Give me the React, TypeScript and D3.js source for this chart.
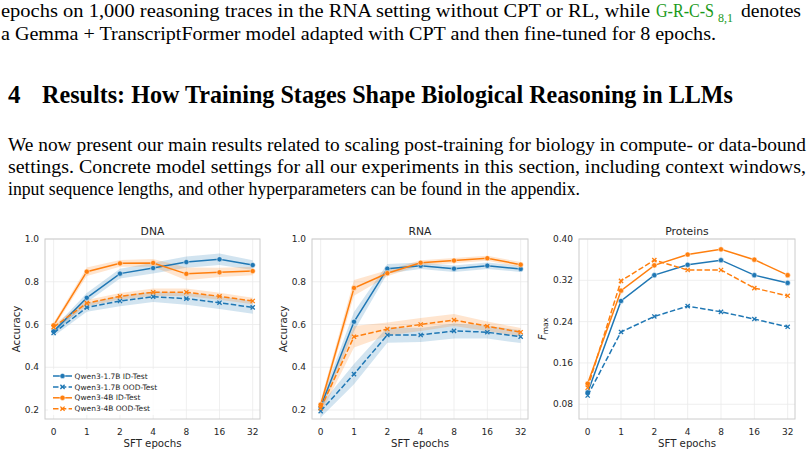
import React, { useEffect, useRef } from "react";
import { select, scaleLinear, line, area, Selection } from "d3";

document.body.style.margin = "0";

const epochLabels = ["0", "1", "2", "4", "8", "16", "32"];
const seriesLabels = [
    "Qwen3-1.7B ID-Test",
    "Qwen3-1.7B OOD-Test",
    "Qwen3-4B ID-Test",
    "Qwen3-4B OOD-Test",
];
const seriesColors = ["#1f77b4", "#1f77b4", "#ff7f0e", "#ff7f0e"];
const seriesDashed = [false, true, false, true];
const seriesMarkers = ["o", "x", "o", "x"];

// DNA accuracy per SFT epoch
const dnaSmallId = [0.568, 0.725, 0.838, 0.864, 0.892, 0.905, 0.878];
const dnaSmallOod = [0.56, 0.68, 0.71, 0.73, 0.721, 0.702, 0.68];
const dnaLargeId = [0.596, 0.847, 0.886, 0.888, 0.837, 0.844, 0.85];
const dnaLargeOod = [0.588, 0.7, 0.732, 0.751, 0.751, 0.732, 0.71];
const dnaSmallIdErr = [0.015, 0.022, 0.023, 0.025, 0.026, 0.027, 0.023];
const dnaSmallOodErr = [0.015, 0.02, 0.025, 0.025, 0.028, 0.03, 0.03];
const dnaLargeIdErr = [0.012, 0.02, 0.016, 0.018, 0.03, 0.022, 0.02];
const dnaLargeOodErr = [0.012, 0.015, 0.015, 0.018, 0.018, 0.016, 0.015];

// RNA accuracy per SFT epoch
const rnaSmallId = [0.215, 0.613, 0.861, 0.875, 0.861, 0.875, 0.86];
const rnaSmallOod = [0.195, 0.368, 0.551, 0.551, 0.57, 0.564, 0.543];
const rnaLargeId = [0.225, 0.771, 0.84, 0.889, 0.899, 0.91, 0.88];
const rnaLargeOod = [0.208, 0.543, 0.579, 0.6, 0.621, 0.592, 0.564];
const rnaSmallIdErr = [0.025, 0.045, 0.022, 0.015, 0.015, 0.015, 0.014];
const rnaSmallOodErr = [0.03, 0.047, 0.036, 0.033, 0.035, 0.03, 0.03];
const rnaLargeIdErr = [0.02, 0.037, 0.014, 0.012, 0.012, 0.012, 0.012];
const rnaLargeOodErr = [0.025, 0.05, 0.03, 0.03, 0.028, 0.022, 0.02];

// Protein F_max per SFT epoch
const protSmallId = [0.103, 0.28, 0.33, 0.35, 0.359, 0.33, 0.315];
const protSmallOod = [0.097, 0.22, 0.25, 0.27, 0.259, 0.245, 0.23];
const protLargeId = [0.12, 0.3, 0.349, 0.37, 0.38, 0.36, 0.33];
const protLargeOod = [0.112, 0.319, 0.359, 0.34, 0.34, 0.305, 0.29];

const accuracyTicks = [0.2, 0.4, 0.6, 0.8, 1.0];
const fmaxTicks = [0.08, 0.16, 0.24, 0.32, 0.4];

interface Panel {
    title: string;
    left: number;
    right: number;
    yLabel: "acc" | "fmax";
    yLabelGap: number;
    yDomain: [number, number];
    yTicks: number[];
    tickDigits: number;
    series: number[][];
    errors: number[][] | null;
    legend: boolean;
}

const panels: Panel[] = [
    {
        title: "DNA",
        left: 45,
        right: 260,
        yLabel: "acc",
        yLabelGap: 29,
        yDomain: [0.158, 1.0],
        yTicks: accuracyTicks,
        tickDigits: 1,
        series: [dnaSmallId, dnaSmallOod, dnaLargeId, dnaLargeOod],
        errors: [dnaSmallIdErr, dnaSmallOodErr, dnaLargeIdErr, dnaLargeOodErr],
        legend: true,
    },
    {
        title: "RNA",
        left: 312,
        right: 528,
        yLabel: "acc",
        yLabelGap: 29,
        yDomain: [0.158, 1.0],
        yTicks: accuracyTicks,
        tickDigits: 1,
        series: [rnaSmallId, rnaSmallOod, rnaLargeId, rnaLargeOod],
        errors: [rnaSmallIdErr, rnaSmallOodErr, rnaLargeIdErr, rnaLargeOodErr],
        legend: false,
    },
    {
        title: "Proteins",
        left: 579,
        right: 795,
        yLabel: "fmax",
        yLabelGap: 37,
        yDomain: [0.0515, 0.4],
        yTicks: fmaxTicks,
        tickDigits: 2,
        series: [protSmallId, protSmallOod, protLargeId, protLargeOod],
        errors: null,
        legend: false,
    },
];

const plotTop = 239;
const plotBottom = 419;
const textColor = "#262626";
const chartFont = "DejaVu Sans, sans-serif";

function drawMarker(
    g: Selection<SVGGElement, unknown, null, undefined>,
    kind: string,
    cx: number,
    cy: number,
    color: string
) {
    if (kind === "o") {
        g.append("circle")
            .attr("cx", cx)
            .attr("cy", cy)
            .attr("r", 2.6)
            .attr("fill", color)
            .attr("stroke", "#fff")
            .attr("stroke-width", 0.5);
    } else {
        const s = 2.1;
        g.append("path")
            .attr("d", `M${cx - s},${cy - s}L${cx + s},${cy + s}M${cx - s},${cy + s}L${cx + s},${cy - s}`)
            .attr("stroke", color)
            .attr("stroke-width", 1.3)
            .attr("fill", "none");
    }
}

function drawPanel(svg: Selection<SVGSVGElement, unknown, null, undefined>, p: Panel) {
    const g = svg.append("g").attr("class", "panel").attr("font-family", chartFont);
    const idx = epochLabels.map((_, i) => i);
    const x = scaleLinear()
        .domain([-0.26, epochLabels.length - 1 + 0.22])
        .range([p.left, p.right]);
    const y = scaleLinear().domain(p.yDomain).range([plotBottom, plotTop]);

    // grid
    g.selectAll(".grid-x")
        .data(idx)
        .join("line")
        .attr("class", "grid-x")
        .attr("x1", (d) => x(d))
        .attr("x2", (d) => x(d))
        .attr("y1", plotTop)
        .attr("y2", plotBottom)
        .attr("stroke", "#ebebeb")
        .attr("stroke-width", 0.8);
    g.selectAll(".grid-y")
        .data(p.yTicks)
        .join("line")
        .attr("class", "grid-y")
        .attr("x1", p.left)
        .attr("x2", p.right)
        .attr("y1", (d) => y(d))
        .attr("y2", (d) => y(d))
        .attr("stroke", "#ebebeb")
        .attr("stroke-width", 0.8);

    // confidence bands
    if (p.errors) {
        p.series.forEach((vals, s) => {
            const err = p.errors![s];
            const band = area<number>()
                .x((_, i) => x(i))
                .y0((v, i) => y(v - err[i]))
                .y1((v, i) => y(v + err[i]));
            g.append("path")
                .datum(vals)
                .attr("d", band)
                .attr("fill", seriesColors[s])
                .attr("fill-opacity", 0.2);
        });
    }

    // lines + markers
    p.series.forEach((vals, s) => {
        const path = line<number>()
            .x((_, i) => x(i))
            .y((v) => y(v));
        g.append("path")
            .datum(vals)
            .attr("d", path)
            .attr("fill", "none")
            .attr("stroke", seriesColors[s])
            .attr("stroke-width", 1.5)
            .attr("stroke-dasharray", seriesDashed[s] ? "5.5,2.3" : null);
        vals.forEach((v, i) => drawMarker(g, seriesMarkers[s], x(i), y(v), seriesColors[s]));
    });

    // frame
    g.append("rect")
        .attr("x", p.left)
        .attr("y", plotTop)
        .attr("width", p.right - p.left)
        .attr("height", plotBottom - plotTop)
        .attr("fill", "none")
        .attr("stroke", "#cccccc")
        .attr("stroke-width", 1);

    // tick labels
    g.selectAll(".tick-y")
        .data(p.yTicks)
        .join("text")
        .attr("class", "tick-y")
        .attr("x", p.left - 6)
        .attr("y", (d) => y(d))
        .attr("dy", "0.35em")
        .attr("text-anchor", "end")
        .attr("font-size", 9)
        .attr("fill", textColor)
        .text((d) => d.toFixed(p.tickDigits));
    g.selectAll(".tick-x")
        .data(idx)
        .join("text")
        .attr("class", "tick-x")
        .attr("x", (d) => x(d))
        .attr("y", 434.5)
        .attr("text-anchor", "middle")
        .attr("font-size", 9)
        .attr("fill", textColor)
        .text((d) => epochLabels[d]);

    const cx = (p.left + p.right) / 2;
    g.append("text")
        .attr("x", cx)
        .attr("y", 235)
        .attr("text-anchor", "middle")
        .attr("font-size", 10.8)
        .attr("fill", textColor)
        .text(p.title);
    g.append("text")
        .attr("x", cx)
        .attr("y", 447)
        .attr("text-anchor", "middle")
        .attr("font-size", 10.2)
        .attr("fill", textColor)
        .text("SFT epochs");

    const cy = (plotTop + plotBottom) / 2;
    const yl = g
        .append("text")
        .attr("transform", `translate(${p.left - p.yLabelGap},${cy}) rotate(-90)`)
        .attr("text-anchor", "middle")
        .attr("dominant-baseline", "central")
        .attr("font-size", 10.2)
        .attr("fill", textColor);
    if (p.yLabel === "acc") {
        yl.text("Accuracy");
    } else {
        yl.append("tspan").attr("font-style", "italic").text("F");
        yl.append("tspan").attr("font-size", 7.5).attr("dy", 2.5).text("max");
    }

    if (p.legend) {
        const lx = p.left + 3;
        const ly = plotBottom - 50;
        const step = 10.9;
        g.append("rect")
            .attr("x", lx)
            .attr("y", ly)
            .attr("width", 122)
            .attr("height", 46)
            .attr("rx", 2)
            .attr("fill", "#fff")
            .attr("fill-opacity", 0.8);
        seriesLabels.forEach((label, s) => {
            const ry = ly + 7 + s * step;
            g.append("line")
                .attr("x1", lx + 5)
                .attr("x2", lx + 24)
                .attr("y1", ry)
                .attr("y2", ry)
                .attr("stroke", seriesColors[s])
                .attr("stroke-width", 1.5)
                .attr("stroke-dasharray", seriesDashed[s] ? "5.5,2.3" : null);
            drawMarker(g, seriesMarkers[s], lx + 14.5, ry, seriesColors[s]);
            g.append("text")
                .attr("x", lx + 26.5)
                .attr("y", ry)
                .attr("dy", "0.35em")
                .attr("font-size", 7.5)
                .attr("fill", textColor)
                .text(label);
        });
    }
}

const serif = "Liberation Serif, Times New Roman, serif";

export default function App() {
    const svgRef = useRef<SVGSVGElement | null>(null);

    useEffect(() => {
        if (!svgRef.current) return;
        const svg = select(svgRef.current);
        svg.selectAll(".panel").remove();
        panels.forEach((p) => drawPanel(svg, p));
    }, []);

    const fit = "spacingAndGlyphs";
    return (
        <svg
            ref={svgRef}
            width={807}
            height={454}
            style={{ display: "block", background: "#fff" }}
        >
            <g fontFamily={serif} fill="#000" fontSize={19}>
                <text x={1} y={17} textLength={649} lengthAdjust={fit}>
                    epochs on 1,000 reasoning traces in the RNA setting without CPT or RL, while
                </text>
                <text x={656} y={17} textLength={58} lengthAdjust={fit} fill="#1a9a1a">
                    G-R-C-S
                </text>
                <text x={718} y={21.5} fontSize={13} textLength={15} lengthAdjust={fit} fill="#1a9a1a">
                    8,1
                </text>
                <text x={741} y={17} textLength={60} lengthAdjust={fit}>
                    denotes
                </text>
                <text x={1} y={40} textLength={715} lengthAdjust={fit}>
                    a Gemma + TranscriptFormer model adapted with CPT and then fine-tuned for 8 epochs.
                </text>
                <text x={8} y={103} fontSize={25} fontWeight="bold">
                    4
                </text>
                <text x={42} y={103} fontSize={25} fontWeight="bold" textLength={691} lengthAdjust={fit}>
                    Results: How Training Stages Shape Biological Reasoning in LLMs
                </text>
                <text x={8} y={151} textLength={798} lengthAdjust={fit}>
                    We now present our main results related to scaling post-training for biology in compute- or data-bound
                </text>
                <text x={8} y={173} textLength={798} lengthAdjust={fit}>
                    settings. Concrete model settings for all our experiments in this section, including context windows,
                </text>
                <text x={8} y={195} textLength={572} lengthAdjust={fit}>
                    input sequence lengths, and other hyperparameters can be found in the appendix.
                </text>
            </g>
        </svg>
    );
}
